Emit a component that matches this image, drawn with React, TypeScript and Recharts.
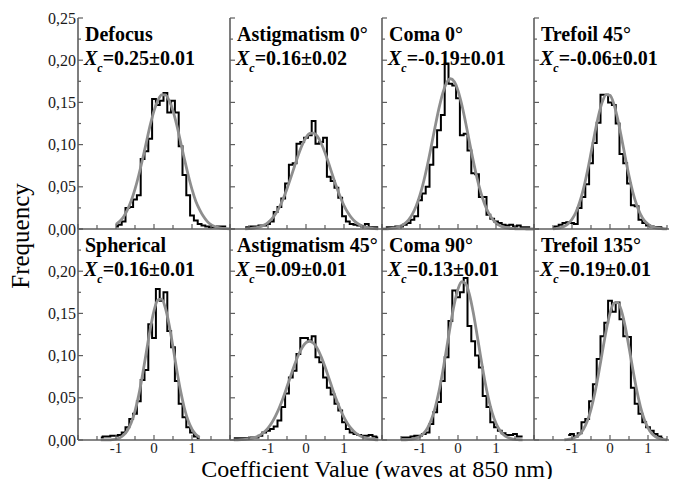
import { LineChart, Line, XAxis, YAxis } from "recharts";

const _ = null;

// histogram bin centres (waves at 850 nm), shared by every panel
const binCenters = [
  -2.0, -1.9, -1.8, -1.7, -1.6, -1.5, -1.4, -1.3, -1.2, -1.1,
  -1.0, -0.9, -0.8, -0.7, -0.6, -0.5, -0.4, -0.3, -0.2, -0.1,
  0.0, 0.1, 0.2, 0.3, 0.4, 0.5, 0.6, 0.7, 0.8, 0.9,
  1.0, 1.1, 1.2, 1.3, 1.4, 1.5, 1.6, 1.7, 1.8, 1.9,
  2.0,
];

const defocusHist = [
  _, _, _, _, _, _, _, _, _, _,
  0.003, 0.005, 0.009, 0.025, 0.026, 0.035, 0.04, 0.083, 0.092, 0.107,
  0.154, 0.147, 0.152, 0.161, 0.138, 0.152, 0.138, 0.098, 0.064, 0.04,
  0.016, 0.01, 0.006, 0.004, 0.003, 0.002, 0.002, 0.003, 0.003, 0.003,
  _,
];
const defocusFit = [
  _, _, _, _, _, _, _, _, _, _,
  0.0054, 0.0091, 0.0146, 0.0226, 0.0334, 0.0472, 0.064, 0.083, 0.103, 0.123,
  0.14, 0.152, 0.159, 0.159, 0.152, 0.14, 0.123, 0.103, 0.083, 0.064,
  0.047, 0.033, 0.023, 0.015, 0.009, 0.005, 0.003, 0.0017, 0.0008, 0.0004,
  0.0002,
];

const astig0Hist = [
  _, _, _, _, 0.002, 0.002, 0.003, 0.003, 0.004, 0.004,
  0.006, 0.009, 0.02, 0.026, 0.036, 0.054, 0.076, 0.078, 0.101, 0.103,
  0.108, 0.111, 0.128, 0.101, 0.103, 0.108, 0.062, 0.057, 0.049, 0.037,
  0.015, 0.009, 0.006, 0.005, 0.004, 0.003, 0.006, 0.002, 0.002, 0.002,
  _,
];
const astig0Fit = [
  _, _, _, _, 0.0002, 0.0005, 0.0009, 0.0016, 0.0028, 0.0048,
  0.0077, 0.012, 0.018, 0.026, 0.0359, 0.0477, 0.0609, 0.0747, 0.088, 0.0996,
  0.1083, 0.1132, 0.1136, 0.1097, 0.1016, 0.0905, 0.0774, 0.0636, 0.0503, 0.0381,
  0.0278, 0.0195, 0.0131, 0.0085, 0.0053, 0.0031, 0.0018, 0.001, 0.0005, 0.0002,
  _,
];

const coma0Hist = [
  _, 0.002, 0.002, 0.002, 0.003, 0.003, 0.005, 0.007, 0.011, 0.015,
  0.034, 0.042, 0.05, 0.076, 0.097, 0.117, 0.135, 0.196, 0.172, 0.17,
  0.155, 0.111, 0.113, 0.093, 0.066, 0.065, 0.038, 0.038, 0.017, 0.012,
  0.009, 0.007, 0.005, 0.004, 0.005, 0.003, 0.004, 0.002, 0.002, 0.002,
  _,
];
const coma0Fit = [
  0.0001, 0.0002, 0.0005, 0.001, 0.002, 0.0037, 0.0065, 0.0109, 0.0177, 0.0273,
  0.0403, 0.0569, 0.0767, 0.0988, 0.1217, 0.1432, 0.1611, 0.1732, 0.178, 0.1748,
  0.164, 0.1472, 0.1262, 0.1034, 0.081, 0.0606, 0.0433, 0.0296, 0.0194, 0.0121,
  0.0072, 0.0041, 0.0022, 0.0012, 0.0006, 0.0003, 0.0001, 0.0001, 0, 0,
  0,
];

const trefoil45Hist = [
  _, _, _, _, _, 0.002, 0.003, 0.005, 0.007, 0.008,
  0.007, 0.006, 0.025, 0.038, 0.053, 0.078, 0.102, 0.126, 0.159, 0.159,
  0.15, 0.147, 0.125, 0.089, 0.078, 0.054, 0.028, 0.027, 0.011, 0.007,
  0.004, 0.003, 0.002, 0.002, 0.001, _, _, _, _, _,
  _,
];
const trefoil45Fit = [
  _, _, _, _, _, 0.0003, 0.0008, 0.0017, 0.0033, 0.0064,
  0.0116, 0.0196, 0.0314, 0.0473, 0.0672, 0.0899, 0.1135, 0.1348, 0.1509, 0.1592,
  0.1583, 0.1483, 0.1309, 0.1088, 0.0853, 0.063, 0.0438, 0.0287, 0.0177, 0.0103,
  0.0057, 0.0029, 0.0014, 0.0007, 0.0003, 0.0001, _, _, _, _,
  _,
];

const sphericalHist = [
  _, _, _, _, _, _, 0.003, 0.004, 0.004, 0.005,
  0.005, 0.006, 0.009, 0.015, 0.025, 0.031, 0.046, 0.071, 0.083, 0.137,
  0.121, 0.179, 0.165, 0.175, 0.129, 0.11, 0.07, 0.043, 0.027, 0.015,
  0.009, 0.004, 0.002, _, _, _, _, _, _, _,
  _,
];
const sphericalFit = [
  _, _, _, _, _, _, 0.0001, 0.0001, 0.0002, 0.0005,
  0.0012, 0.0028, 0.0058, 0.0113, 0.0204, 0.0342, 0.0535, 0.0776, 0.1046, 0.1312,
  0.153, 0.1658, 0.167, 0.1564, 0.1361, 0.1102, 0.0828, 0.0579, 0.0376, 0.0227,
  0.0128, 0.0067, 0.0032, _, _, _, _, _, _, _,
  _,
];

const astig45Hist = [
  _, 0.002, 0.002, 0.002, 0.002, 0.002, 0.003, 0.003, 0.005, 0.009,
  0.011, 0.013, 0.016, 0.023, 0.039, 0.055, 0.074, 0.082, 0.102, 0.121,
  0.121, 0.118, 0.123, 0.098, 0.092, 0.074, 0.062, 0.054, 0.043, 0.035,
  0.021, 0.013, 0.009, 0.007, 0.006, 0.005, 0.005, 0.006, 0.004, 0.003,
  _,
];
const astig45Fit = [
  _, 0.0001, 0.0002, 0.0004, 0.0007, 0.0013, 0.0022, 0.0038, 0.0061, 0.0094,
  0.0141, 0.0204, 0.0286, 0.0385, 0.0501, 0.063, 0.0763, 0.0892, 0.1007, 0.1097,
  0.1153, 0.117, 0.1145, 0.1082, 0.0986, 0.0867, 0.0736, 0.0603, 0.0477, 0.0364,
  0.0268, 0.019, 0.0131, 0.0086, 0.0055, 0.0034, 0.002, 0.0012, 0.0006, 0.0003,
  _,
];

const coma90Hist = [
  _, _, _, _, _, 0.003, 0.003, 0.003, 0.004, 0.005,
  0.005, 0.007, 0.009, 0.019, 0.033, 0.045, 0.07, 0.098, 0.141, 0.177,
  0.169, 0.175, 0.192, 0.135, 0.117, 0.1, 0.086, 0.052, 0.039, 0.021,
  0.015, 0.011, 0.008, 0.006, 0.006, 0.007, 0.004, 0.004, _, _,
  _,
];
const coma90Fit = [
  _, _, _, _, _, 0.0001, 0.0002, 0.0004, 0.001, 0.0021,
  0.0042, 0.008, 0.0143, 0.0242, 0.0385, 0.0577, 0.0815, 0.1085, 0.136, 0.1606,
  0.1788, 0.1875, 0.1853, 0.1725, 0.1513, 0.1251, 0.0975, 0.0715, 0.0495, 0.0322,
  0.0198, 0.0114, 0.0062, 0.0032, 0.0016, 0.0007, 0.0003, 0.0001, _, _,
  _,
];

const trefoil135Hist = [
  _, _, _, _, _, _, _, _, _, 0.006,
  0.007, 0.004, 0.008, 0.021, 0.025, 0.046, 0.066, 0.096, 0.123, 0.139,
  0.165, 0.152, 0.163, 0.143, 0.123, 0.122, 0.062, 0.043, 0.031, 0.021,
  0.015, 0.011, 0.007, 0.004, 0.002, _, _, _, _, _,
  _,
];
const trefoil135Fit = [
  _, _, _, _, _, _, _, _, 0.0003, 0.0007,
  0.0016, 0.0034, 0.0067, 0.0127, 0.0222, 0.0363, 0.0554, 0.0788, 0.1047, 0.1298,
  0.1501, 0.162, 0.1631, 0.1532, 0.1343, 0.1099, 0.0839, 0.0597, 0.0397, 0.0246,
  0.0143, 0.0077, 0.0039, 0.0018, 0.0008, 0.0003, _, _, _, _,
  _,
];

const panelTitles = [
  "Defocus", "Astigmatism 0°", "Coma 0°", "Trefoil 45°",
  "Spherical", "Astigmatism 45°", "Coma 90°", "Trefoil 135°",
];
const panelXc = [
  "0.25±0.01", "0.16±0.02", "-0.19±0.01", "-0.06±0.01",
  "0.16±0.01", "0.09±0.01", "0.13±0.01", "0.19±0.01",
];
const panelHist = [
  defocusHist, astig0Hist, coma0Hist, trefoil45Hist,
  sphericalHist, astig45Hist, coma90Hist, trefoil135Hist,
];
const panelFit = [
  defocusFit, astig0Fit, coma0Fit, trefoil45Fit,
  sphericalFit, astig45Fit, coma90Fit, trefoil135Fit,
];

const xTicks = [-2, -1.5, -1, -0.5, 0, 0.5, 1, 1.5, 2];
const xLabels = [-1, 0, 1];
const yTicks = [0, 0.025, 0.05, 0.075, 0.1, 0.125, 0.15, 0.175, 0.2, 0.225, 0.25];

const SERIF = '"Liberation Serif", "Times New Roman", serif';
const FRAME = "#5e5e5e";
const PLOT_W = 152;
const PLOT_H = 211;
const LEFT = 78;
const TOP = 18;
const ML = 70;
const MR = 10;
const MT = 10;
const MB = 30;

const axisLine = { stroke: FRAME, strokeWidth: 1.6 };

const isMajorX = (v: number) => Math.abs(v - Math.round(v)) < 1e-6;
const isMajorY = (v: number) => Math.abs(v / 0.05 - Math.round(v / 0.05)) < 1e-6;

const BottomTick = ({ x, y, payload, showLabel }: any) => {
  const v = payload.value;
  const major = isMajorX(v);
  return (
    <g>
      <line x1={x} x2={x} y1={y} y2={y - (major ? 5 : 4)} stroke={FRAME} strokeWidth={1.2} />
      {showLabel && xLabels.includes(v) && (
        <text x={x} y={y + 13} textAnchor="middle" fontSize={15} fill="#1a1a1a" fontFamily={SERIF}>
          {String(v)}
        </text>
      )}
    </g>
  );
};

const TopTick = ({ x, y, payload }: any) => {
  const major = isMajorX(payload.value);
  return <line x1={x} x2={x} y1={y} y2={y + (major ? 5 : 4)} stroke={FRAME} strokeWidth={1.2} />;
};

const LeftTick = ({ x, y, payload, showLabel, yMax }: any) => {
  const v = payload.value;
  const major = isMajorY(v);
  return (
    <g>
      <line x1={x} x2={x + (major ? 5 : 3)} y1={y} y2={y} stroke={FRAME} strokeWidth={1.2} />
      {showLabel && major && v <= yMax + 1e-6 && (
        <text x={x - 2} y={y} dy="0.35em" textAnchor="end" fontSize={16} fill="#1a1a1a" fontFamily={SERIF}>
          {v.toFixed(2).replace(".", ",")}
        </text>
      )}
    </g>
  );
};

const RightTick = ({ x, y, payload }: any) => {
  const major = isMajorY(payload.value);
  return <line x1={x} x2={x - (major ? 5 : 3)} y1={y} y2={y} stroke={FRAME} strokeWidth={1.2} />;
};

const Panel = ({ index }: { index: number }) => {
  const col = index % 4;
  const row = Math.floor(index / 4);
  const hist = panelHist[index];
  const fit = panelFit[index];
  const data = binCenters.map((x, i) => ({ x, hist: hist[i], fit: fit[i] }));
  const showX = row === 1;
  const showY = col === 0;
  const yMax = row === 0 ? 0.25 : 0.2;

  return (
    <div style={{ position: "absolute", left: LEFT + col * PLOT_W - ML, top: TOP + row * PLOT_H - MT }}>
      <LineChart
        width={ML + PLOT_W + MR}
        height={MT + PLOT_H + MB}
        data={data}
        margin={{ top: MT, right: MR, bottom: 0, left: 0 }}
      >
        <XAxis
          xAxisId="b"
          dataKey="x"
          type="number"
          domain={[-2, 2]}
          ticks={xTicks}
          interval={0}
          height={MB}
          tickSize={0}
          tickMargin={0}
          tickLine={false}
          axisLine={axisLine}
          tick={(p: any) => <BottomTick {...p} showLabel={showX} />}
        />
        <XAxis
          xAxisId="t"
          orientation="top"
          dataKey="x"
          type="number"
          domain={[-2, 2]}
          ticks={xTicks}
          interval={0}
          height={0}
          tickSize={0}
          tickMargin={0}
          tickLine={false}
          axisLine={axisLine}
          tick={(p: any) => <TopTick {...p} />}
        />
        <YAxis
          yAxisId="l"
          type="number"
          domain={[0, 0.25]}
          ticks={yTicks}
          interval={0}
          width={ML}
          tickSize={0}
          tickMargin={0}
          tickLine={false}
          axisLine={axisLine}
          tick={(p: any) => <LeftTick {...p} showLabel={showY} yMax={yMax} />}
        />
        <YAxis
          yAxisId="r"
          orientation="right"
          type="number"
          domain={[0, 0.25]}
          ticks={yTicks}
          interval={0}
          width={0}
          tickSize={0}
          tickMargin={0}
          tickLine={false}
          axisLine={axisLine}
          tick={(p: any) => <RightTick {...p} />}
        />
        <Line
          xAxisId="b"
          yAxisId="l"
          dataKey="hist"
          type="step"
          stroke="#000"
          strokeWidth={2}
          dot={false}
          activeDot={false}
          isAnimationActive={false}
        />
        <Line
          xAxisId="b"
          yAxisId="l"
          dataKey="fit"
          type="monotone"
          stroke="#8e8e8e"
          strokeWidth={2.8}
          dot={false}
          activeDot={false}
          isAnimationActive={false}
        />
      </LineChart>
    </div>
  );
};

const App = () => {
  return (
    <div style={{ position: "relative", margin: -8, width: 677, height: 487, overflow: "hidden", background: "#fff" }}>
      {panelTitles.map((_t, i) => (
        <Panel key={i} index={i} />
      ))}
      <svg
        width={677}
        height={487}
        style={{ position: "absolute", left: 0, top: 0, pointerEvents: "none" }}
        fontFamily={SERIF}
      >
        {panelTitles.map((title, i) => {
          const x = LEFT + (i % 4) * PLOT_W + 7;
          const y = TOP + Math.floor(i / 4) * PLOT_H;
          return (
            <g key={title} fontWeight="bold" fontSize={20} fill="#000">
              <text x={x} y={y + 23}>{title}</text>
              <text x={x - 1} y={y + 47}>
                <tspan fontStyle="italic">X</tspan>
                <tspan fontStyle="italic" fontSize={12} dy={7}>c</tspan>
                <tspan dy={-7}>={panelXc[i]}</tspan>
              </text>
            </g>
          );
        })}
        <text transform="translate(29,236) rotate(-90)" textAnchor="middle" fontSize={25} fill="#000">
          Frequency
        </text>
        <text x={377} y={477} textAnchor="middle" fontSize={24} fill="#000">
          Coefficient Value (waves at 850 nm)
        </text>
      </svg>
    </div>
  );
};

export default App;
